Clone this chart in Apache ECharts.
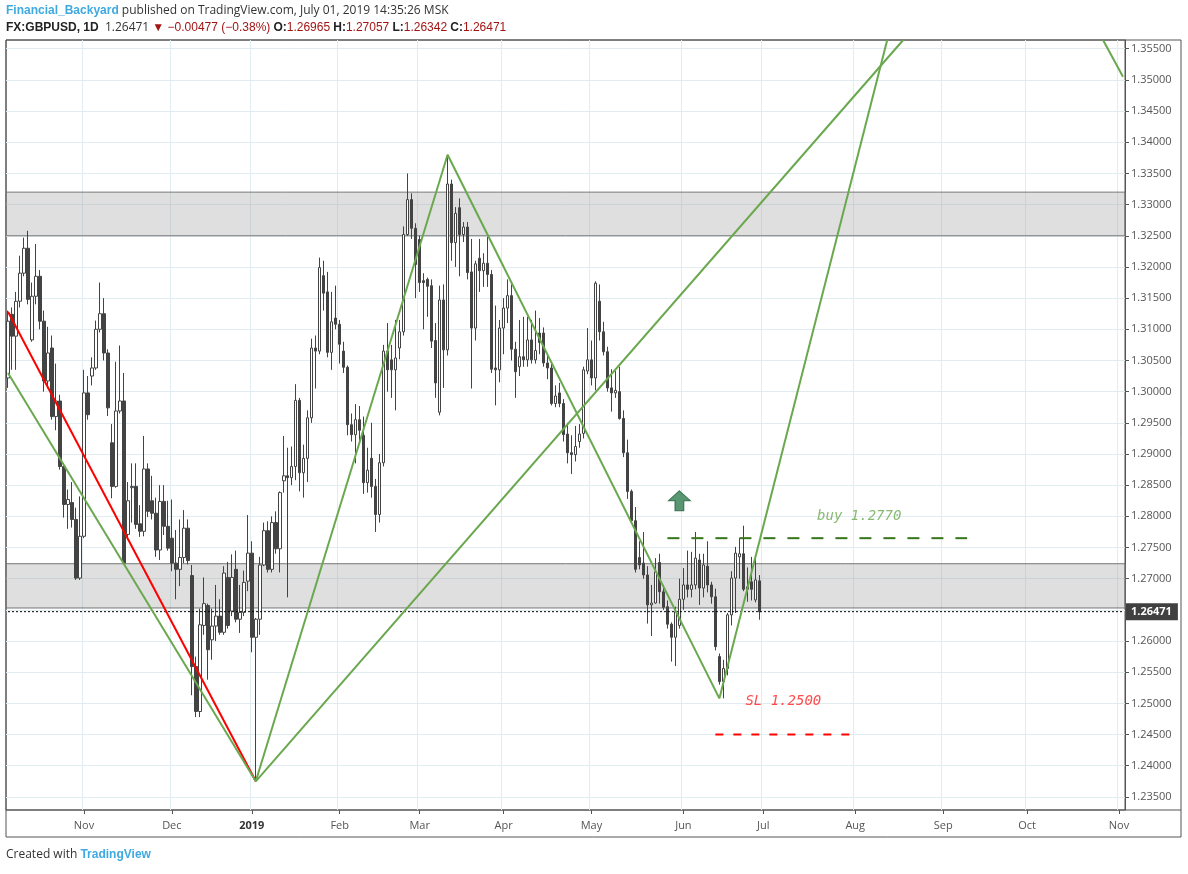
<!DOCTYPE html>
<html>
<head>
<meta charset="utf-8">
<script src="https://cdn.jsdelivr.net/npm/echarts@6/dist/echarts.min.js"></script>
<style>
  html, body { margin: 0; padding: 0; background: #fff; }
  #chart { width: 1188px; height: 874px; }
</style>
</head>
<body>
<div id="chart"></div>
<script>
// daily candles [open, close, low, high], from 2018-10-05 to 2019-07-01
const candles = [
  [1.3022,1.3113,1.3006,1.3130],[1.3124,1.3089,1.3035,1.3135],[1.3089,1.3145,1.3035,1.3160],[1.3145,1.3190,1.3135,1.3218],
  [1.3190,1.3230,1.3185,1.3247],[1.3230,1.3148,1.3140,1.3258],[1.3083,1.3153,1.3080,1.3175],[1.3153,1.3185,1.3140,1.3237],
  [1.3185,1.3113,1.3100,1.3195],[1.3113,1.3017,1.3000,1.3130],[1.3017,1.3062,1.3005,1.3104],[1.3070,1.2960,1.2955,1.3090],
  [1.2960,1.2985,1.2938,1.3045],[1.2985,1.2880,1.2875,1.2995],[1.2880,1.2819,1.2798,1.2885],[1.2819,1.2827,1.2780,1.2843],
  [1.2822,1.2795,1.2782,1.2855],[1.2795,1.2701,1.2698,1.2814],[1.2701,1.2768,1.2698,1.2832],[1.2768,1.2998,1.2765,1.3035],
  [1.2998,1.2963,1.2955,1.3025],[1.3025,1.3038,1.3010,1.3055],[1.3038,1.3100,1.3035,1.3114],[1.3100,1.3125,1.3095,1.3175],
  [1.3125,1.3062,1.3050,1.3150],[1.3062,1.2974,1.2961,1.3068],[1.2918,1.2848,1.2829,1.2948],[1.2848,1.2969,1.2846,1.3048],
  [1.2969,1.2985,1.2965,1.3074],[1.2985,1.2725,1.2725,1.3030],[1.2771,1.2825,1.2762,1.2855],[1.2846,1.2848,1.2790,1.2885],
  [1.2848,1.2787,1.2780,1.2885],[1.2788,1.2776,1.2767,1.2818],[1.2776,1.2876,1.2768,1.2929],[1.2876,1.2808,1.2799,1.2885],
  [1.2825,1.2805,1.2795,1.2865],[1.2805,1.2746,1.2735,1.2830],[1.2746,1.2824,1.2730,1.2850],[1.2824,1.2784,1.2770,1.2850],
  [1.2784,1.2749,1.2745,1.2825],[1.2765,1.2725,1.2712,1.2827],[1.2725,1.2715,1.2667,1.2778],[1.2715,1.2734,1.2688,1.2795],
  [1.2734,1.2781,1.2725,1.2810],[1.2781,1.2729,1.2723,1.2795],[1.2705,1.2559,1.2513,1.2722],[1.2559,1.2487,1.2478,1.2575],
  [1.2487,1.2626,1.2478,1.2652],[1.2625,1.2660,1.2610,1.2702],[1.2657,1.2586,1.2538,1.2660],[1.2602,1.2624,1.2570,1.2652],
  [1.2624,1.2640,1.2600,1.2690],[1.2640,1.2614,1.2610,1.2667],[1.2614,1.2709,1.2610,1.2720],[1.2702,1.2625,1.2620,1.2727],
  [1.2648,1.2702,1.2640,1.2739],[1.2715,1.2635,1.2630,1.2745],[1.2635,1.2646,1.2613,1.2690],[1.2646,1.2694,1.2640,1.2713],
  [1.2696,1.2741,1.2680,1.2802],[1.2741,1.2606,1.2582,1.2760],[1.2606,1.2635,1.2375,1.2637],[1.2635,1.2722,1.2610,1.2735],
  [1.2722,1.2777,1.2720,1.2790],[1.2777,1.2715,1.2710,1.2792],[1.2715,1.2790,1.2710,1.2800],[1.2790,1.2748,1.2740,1.2808],
  [1.2748,1.2838,1.2710,1.2840],[1.2857,1.2865,1.2838,1.2929],[1.2865,1.2862,1.2670,1.2910],[1.2862,1.2880,1.2850,1.2912],
  [1.2880,1.2986,1.2858,1.3012],[1.2986,1.2870,1.2840,1.2990],[1.2870,1.2893,1.2830,1.2915],[1.2893,1.2958,1.2855,1.2970],
  [1.2958,1.3070,1.2950,1.3085],[1.3070,1.3065,1.3005,1.3090],[1.3065,1.3199,1.3060,1.3215],[1.3186,1.3158,1.3130,1.3210],
  [1.3160,1.3063,1.3055,1.3192],[1.3063,1.3112,1.3035,1.3160],[1.3118,1.3108,1.3100,1.3170],[1.3108,1.3076,1.3045,1.3115],
  [1.3065,1.3039,1.3030,1.3080],[1.3039,1.2947,1.2930,1.3042],[1.2947,1.2931,1.2920,1.2965],[1.2931,1.2955,1.2885,1.2980],
  [1.2955,1.2938,1.2920,1.2977],[1.2930,1.2854,1.2836,1.2960],[1.2854,1.2874,1.2838,1.2910],[1.2893,1.2848,1.2830,1.2950],
  [1.2848,1.2803,1.2775,1.2860],[1.2803,1.2886,1.2790,1.2900],[1.2886,1.3065,1.2880,1.3075],[1.3065,1.3035,1.3000,1.3110],
  [1.3051,1.3035,1.2990,1.3075],[1.3035,1.3054,1.2970,1.3115],[1.3070,1.3096,1.3052,1.3115],[1.3096,1.3252,1.3090,1.3265],
  [1.3252,1.3308,1.3250,1.3350],[1.3308,1.3262,1.3245,1.3318],[1.3262,1.3204,1.3150,1.3270],[1.3244,1.3175,1.3160,1.3250],
  [1.3178,1.3175,1.3100,1.3190],[1.3180,1.3169,1.3120,1.3183],[1.3170,1.3081,1.3070,1.3180],[1.3082,1.3014,1.2990,1.3110],
  [1.2967,1.3147,1.2962,1.3170],[1.3147,1.3067,1.3006,1.3172],[1.3067,1.3333,1.3058,1.3380],[1.3333,1.3239,1.3210,1.3340],
  [1.3239,1.3286,1.3200,1.3296],[1.3295,1.3252,1.3185,1.3310],[1.3252,1.3264,1.3240,1.3272],[1.3264,1.3191,1.3180,1.3272],
  [1.3192,1.3102,1.3005,1.3245],[1.3102,1.3205,1.3082,1.3210],[1.3214,1.3194,1.3160,1.3245],[1.3194,1.3206,1.3168,1.3222],
  [1.3206,1.3188,1.3168,1.3248],[1.3188,1.3036,1.3030,1.3195],[1.3038,1.3035,1.2978,1.3138],[1.3035,1.3102,1.3015,1.3115],
  [1.3102,1.3134,1.3060,1.3150],[1.3134,1.3154,1.3110,1.3180],[1.3154,1.3068,1.3050,1.3172],[1.3068,1.3032,1.2990,1.3080],
  [1.3040,1.3056,1.3025,1.3115],[1.3056,1.3051,1.3040,1.3120],[1.3051,1.3083,1.3040,1.3120],[1.3083,1.3051,1.3045,1.3115],
  [1.3051,1.3066,1.3045,1.3130],[1.3094,1.3079,1.3060,1.3118],[1.3094,1.3046,1.3040,1.3103],[1.3046,1.3038,1.3020,1.3060],
  [1.3038,1.2981,1.2978,1.3045],[1.2981,1.2993,1.2975,1.3010],[1.2998,1.2981,1.2975,1.3014],[1.2981,1.2931,1.2920,1.2988],
  [1.2932,1.2902,1.2885,1.2950],[1.2902,1.2899,1.2868,1.2930],[1.2899,1.2912,1.2888,1.2945],[1.2920,1.2932,1.2910,1.2948],
  [1.2933,1.3035,1.2925,1.3040],[1.3033,1.3051,1.3028,1.3102],[1.3051,1.3022,1.3010,1.3082],[1.3022,1.3174,1.3002,1.3177],
  [1.3145,1.3096,1.3082,1.3172],[1.3096,1.3064,1.3058,1.3112],[1.3064,1.3006,1.3000,1.3072],[1.3006,1.2998,1.2968,1.3036],
  [1.2998,1.3002,1.2990,1.3033],[1.3000,1.2957,1.2955,1.3040],[1.2957,1.2902,1.2895,1.2970],[1.2902,1.2840,1.2828,1.2923],
  [1.2840,1.2793,1.2788,1.2843],[1.2793,1.2715,1.2710,1.2815],[1.2734,1.2722,1.2715,1.2760],[1.2725,1.2706,1.2700,1.2775],
  [1.2706,1.2658,1.2628,1.2720],[1.2658,1.2661,1.2608,1.2690],[1.2661,1.2711,1.2660,1.2733],[1.2726,1.2679,1.2660,1.2740],
  [1.2679,1.2654,1.2650,1.2690],[1.2655,1.2627,1.2620,1.2665],[1.2627,1.2606,1.2567,1.2630],[1.2606,1.2647,1.2560,1.2655],
  [1.2625,1.2667,1.2620,1.2700],[1.2667,1.2690,1.2650,1.2717],[1.2690,1.2683,1.2670,1.2745],[1.2683,1.2690,1.2670,1.2743],
  [1.2690,1.2733,1.2683,1.2775],[1.2730,1.2685,1.2658,1.2740],[1.2685,1.2722,1.2670,1.2740],[1.2720,1.2690,1.2678,1.2760],
  [1.2690,1.2671,1.2660,1.2695],[1.2671,1.2591,1.2585,1.2684],[1.2575,1.2535,1.2530,1.2580],[1.2535,1.2556,1.2508,1.2570],
  [1.2556,1.2642,1.2545,1.2645],[1.2642,1.2701,1.2625,1.2712],[1.2701,1.2741,1.2645,1.2751],[1.2735,1.2740,1.2700,1.2765],
  [1.2740,1.2683,1.2680,1.2785],[1.2683,1.2687,1.2663,1.2718],[1.2695,1.2683,1.2665,1.2735],[1.2666,1.2698,1.2662,1.2737],
  [1.26965,1.26471,1.26342,1.27057]
];
const totalSlots = 280;            // candles plus empty future bars
const skipDays = ["2018-12-25", "2019-01-01"];
const priceTicks = [1.235,1.24,1.245,1.25,1.255,1.26,1.265,1.27,1.275,1.28,1.285,1.29,1.295,1.3,1.305,1.31,1.315,1.32,1.325,1.33,1.335,1.34,1.345,1.35,1.355];
const monthNames = ["Jan","Feb","Mar","Apr","May","Jun","Jul","Aug","Sep","Oct","Nov","Dec"];
const lastPrice = 1.26471;
const zones = [[1.3250, 1.3320], [1.2653, 1.2724]];
// drawn trend lines: [bar index, price]
const redLine = [[0, 1.3128], [62, 1.2375]];
const greenLines = [
  [[0, 1.3030], [62, 1.2375]],
  [[62, 1.2375], [110, 1.3380]],
  [[110, 1.3380], [178, 1.2508]],
  [[62, 1.2375], [224, 1.3564]],
  [[178, 1.2508], [220, 1.3564]],
  [[274, 1.3564], [279, 1.3505]]
];
const lastPriceLine = [[0, lastPrice], [279, lastPrice]];
const buyLine = [[165, 1.2765], [240, 1.2765]];
const slLine = [[177, 1.2450], [213, 1.2450]];
const buyText = [[213, 1.2800]];
const slText = [[194, 1.2503]];
const arrowPoint = [[168, 1.2825]];

// weekday calendar for the category axis
const dates = [];
const d = new Date(Date.UTC(2018, 9, 5));
while (dates.length < totalSlots) {
  const wd = d.getUTCDay();
  const s = d.toISOString().slice(0, 10);
  if (wd !== 0 && wd !== 6 && !skipDays.includes(s)) dates.push(s);
  d.setUTCDate(d.getUTCDate() + 1);
}
function isMonthStart(i) {
  return i > 0 && dates[i].slice(5, 7) !== dates[i - 1].slice(5, 7);
}

const gridColor = "#e1ecf2";
const lineSeries = function (pts, color, width, type) {
  return {
    type: "line", data: pts, symbol: "none", silent: true, animation: false,
    lineStyle: { color: color, width: width, type: type || "solid" }, z: 5
  };
};

const chart = echarts.init(document.getElementById("chart"));
chart.setOption({
  animation: false,
  backgroundColor: "#fff",
  textStyle: { fontFamily: "Open Sans, sans-serif" },
  grid: { left: 6, right: 63, top: 40, bottom: 64, show: true, borderColor: "#555", borderWidth: 1 },
  xAxis: {
    type: "category",
    data: dates,
    boundaryGap: true,
    axisLine: { show: false },
    axisTick: { show: true, alignWithLabel: true, interval: isMonthStart, lineStyle: { color: "#555" }, length: 4 },
    axisLabel: {
      interval: isMonthStart,
      color: "#555", fontSize: 11, margin: 10,
      formatter: function (v) {
        const m = Number(v.slice(5, 7));
        return m === 1 ? "{y|" + v.slice(0, 4) + "}" : monthNames[m - 1];
      },
      rich: { y: { fontWeight: "bold", color: "#333", fontSize: 11 } }
    },
    splitLine: { show: true, interval: isMonthStart, lineStyle: { color: gridColor } }
  },
  yAxis: {
    type: "value",
    position: "right",
    min: 1.2329,
    max: 1.3564,
    axisLine: { show: true, lineStyle: { color: "#555" } },
    axisTick: { show: true, customValues: priceTicks, length: 4, lineStyle: { color: "#555" } },
    axisLabel: { customValues: priceTicks, color: "#555", fontSize: 11, margin: 6, formatter: function (v) { return v.toFixed(5); } },
    splitLine: { show: true, lineStyle: { color: gridColor } }
  },
  series: [
    {
      type: "candlestick",
      data: candles,
      barWidth: 3,
      itemStyle: { color: "#ffffff", color0: "#434343", borderColor: "#434343", borderColor0: "#434343", borderWidth: 1 },
      markArea: {
        silent: true,
        itemStyle: { color: "rgba(150,150,150,0.3)", borderColor: "#777", borderWidth: 1 },
        data: zones.map(function (z) { return [{ yAxis: z[0] }, { yAxis: z[1] }]; })
      },
      z: 3
    },
    {
      type: "line", data: lastPriceLine, symbol: "none", silent: true, z: 4,
      lineStyle: { color: "#000", width: 1, type: [2, 2] },
      endLabel: {
        show: true, distance: 3, formatter: lastPrice.toFixed(5),
        backgroundColor: "#404040", color: "#fff", fontWeight: "bold", fontSize: 11, padding: [3, 6, 3, 5]
      }
    },
    lineSeries(redLine, "#ff0000", 2),
    ...greenLines.map(function (pts) { return lineSeries(pts, "#6aa84f", 2); }),
    lineSeries(buyLine, "#38761d", 2, [12, 12]),
    lineSeries(slLine, "#ff0000", 2, [8, 10]),
    {
      type: "scatter", data: buyText, symbolSize: 0, silent: true,
      label: { show: true, position: "inside", formatter: "buy 1.2770", color: "#6aa84f", fontStyle: "italic", fontFamily: "DejaVu Sans Mono", fontSize: 14 }
    },
    {
      type: "scatter", data: slText, symbolSize: 0, silent: true,
      label: { show: true, position: "inside", formatter: "SL 1.2500", color: "#ff2020", fontStyle: "italic", fontFamily: "DejaVu Sans Mono", fontSize: 14 }
    },
    {
      type: "scatter", data: arrowPoint, silent: true, symbolSize: [22, 20],
      symbol: "path://M10,0 L20,10 L14,10 L14,20 L6,20 L6,10 L0,10 Z",
      itemStyle: { color: "#2e7d4f", borderColor: "#1f5c39", borderWidth: 1 }
    }
  ],
  graphic: [
    { type: "rect", shape: { x: 6, y: 40, width: 1175, height: 797 }, style: { fill: "none", stroke: "#555", lineWidth: 1 }, silent: true },
    { type: "line", shape: { x1: 6, y1: 810, x2: 1181, y2: 810 }, style: { stroke: "#555", lineWidth: 1 }, silent: true },
    {
      type: "text", left: 6, top: 5,
      style: {
        text: "{a|Financial_Backyard} published on TradingView.com, July 01, 2019 14:35:26 MSK",
        font: "12px Open Sans", fill: "#333",
        rich: { a: { fill: "#3fa9e0", fontSize: 12, fontWeight: "bold" } }
      }
    },
    {
      type: "text", left: 6, top: 22,
      style: {
        text: "{b|FX:GBPUSD, 1D}  1.26471 {r|▼ −0.00477 (−0.38%)} {b|O:}{r|1.26965} {b|H:}{r|1.27057} {b|L:}{r|1.26342} {b|C:}{r|1.26471}",
        font: "12px Open Sans", fill: "#333",
        rich: { b: { fontWeight: "bold", fill: "#222", fontSize: 12 }, r: { fill: "#a31515", fontSize: 12 } }
      }
    },
    {
      type: "text", left: 6, top: 849,
      style: {
        text: "Created with {t|TradingView}",
        font: "12px Open Sans", fill: "#333",
        rich: { t: { fill: "#3fa9e0", fontSize: 12, fontWeight: "bold" } }
      }
    }
  ]
});
</script>
</body>
</html>
